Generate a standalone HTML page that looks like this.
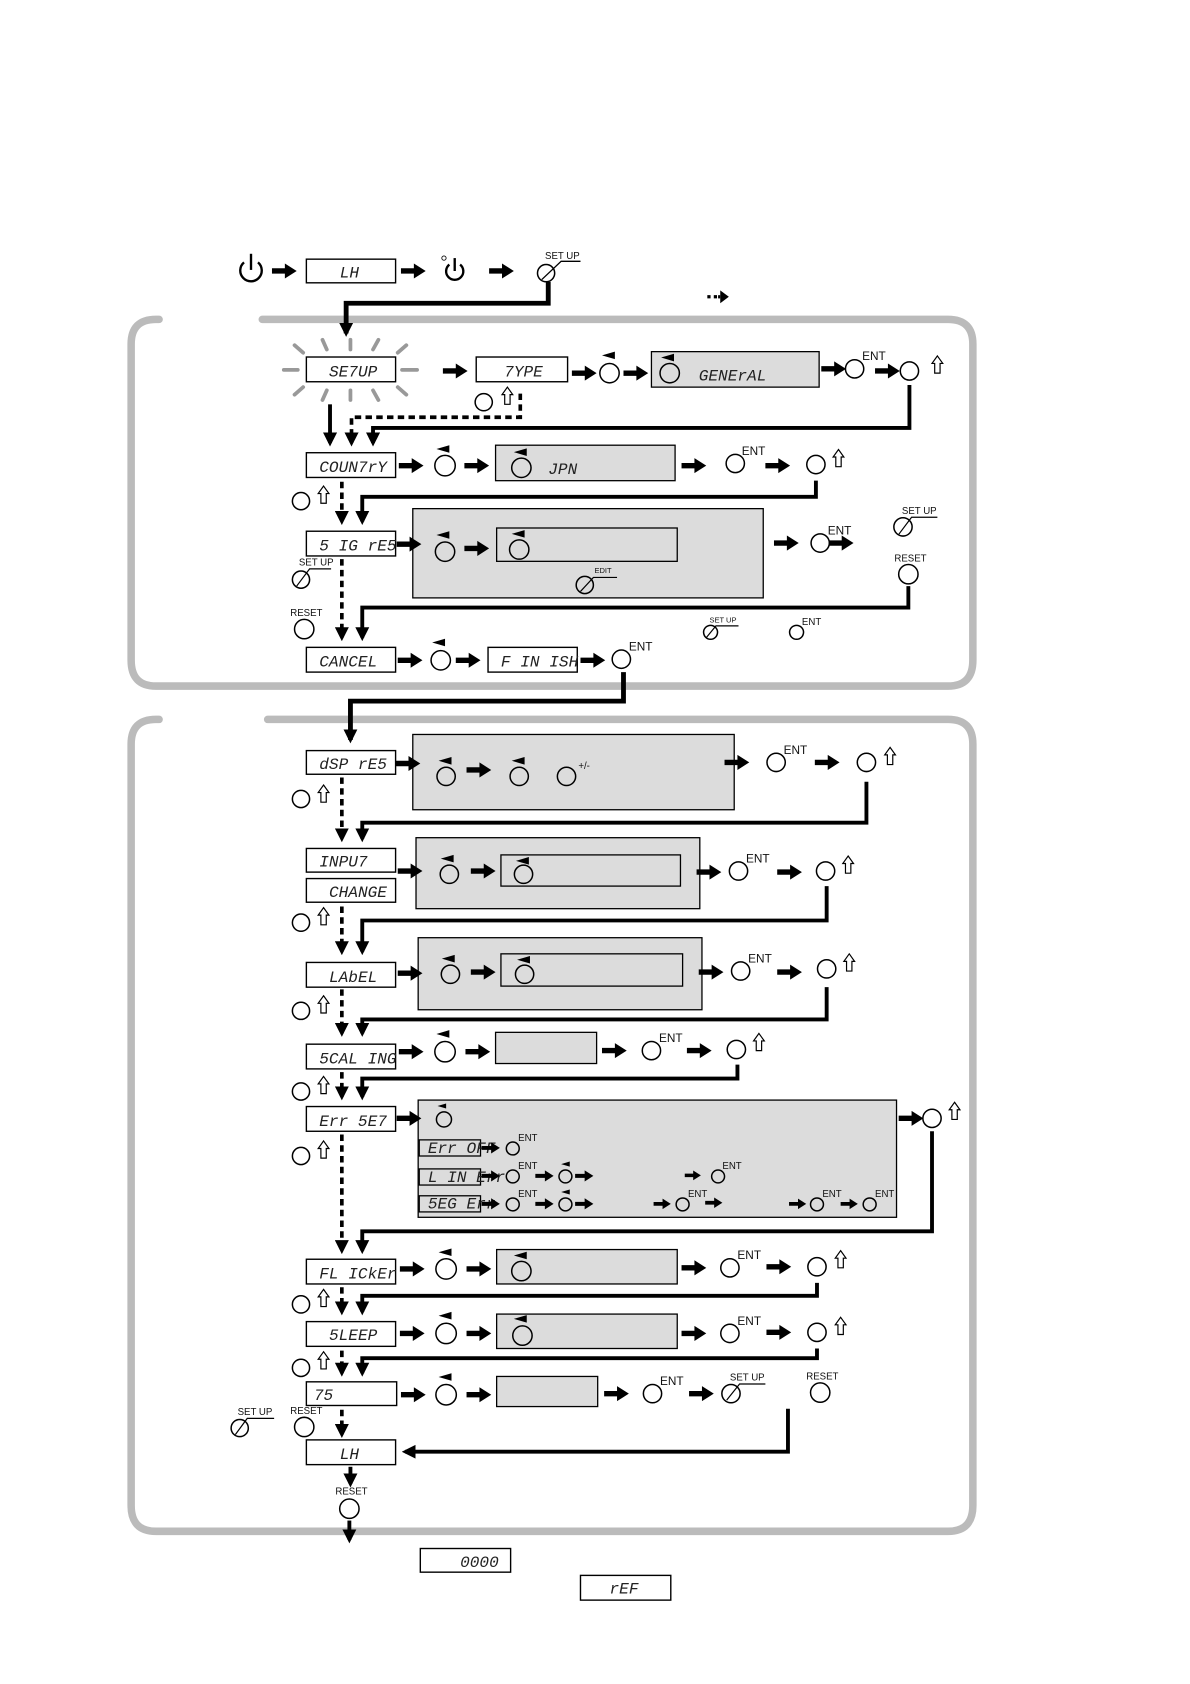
<!DOCTYPE html>
<html><head><meta charset="utf-8"><style>
html,body{margin:0;padding:0;background:#fff}
svg{display:block}
.d{font-family:"Liberation Mono",monospace;font-style:italic;font-size:15px;fill:#222}
.s{font-family:"Liberation Sans",sans-serif;font-size:9px;fill:#111}
.e{font-family:"Liberation Sans",sans-serif;font-size:11px;fill:#111}
</style></head><body>
<svg width="1190" height="1684" viewBox="0 0 1107 1566" preserveAspectRatio="none" xmlns="http://www.w3.org/2000/svg">
<defs>
<symbol id="ra" viewBox="0 0 23 14" width="23" height="14" overflow="visible"><path d="M0 4.5h12v-4.5l11 7-11 7v-4.5H0z" fill="#000"/></symbol>
<marker id="mh" markerUnits="userSpaceOnUse" viewBox="0 0 12 12" refX="9" refY="6" markerWidth="13" markerHeight="13" orient="auto"><path d="M0 0L12 6L0 12z" fill="#000"/></marker>
<symbol id="up" viewBox="0 0 12 18" width="12" height="18" overflow="visible"><path d="M6 1L11 8H8.5V17H3.5V8H1z" fill="#fff" stroke="#000" stroke-width="1.1"/></symbol>
<symbol id="tri" viewBox="0 0 12 7" width="12" height="7" overflow="visible"><path d="M0 3.5L12 0V7z" fill="#000"/></symbol>
</defs>
<g fill="none" stroke="#bbb" stroke-width="7" stroke-linecap="round">
<path d="M148 297H145Q122 297 122 320V614Q122 638 145 638H882Q905 638 905 614V320Q905 297 882 297H244"/>
<path d="M148 669H145Q122 669 122 692V1400Q122 1424 145 1424H882Q905 1424 905 1400V692Q905 669 882 669H249"/>
</g>
<!-- top row -->
<g fill="none" stroke="#000" stroke-width="2.2">
<path d="M227 244A10 10 0 1 0 240 244"/><path d="M233.5 236V251"/>
<path d="M418 246A8 8 0 1 0 428 246"/><path d="M423 240V252"/>
</g>
<circle cx="413" cy="240" r="2" fill="none" stroke="#000" stroke-width="0.8"/>
<use href="#ra" x="253" y="245"/><use href="#ra" x="373" y="245"/><use href="#ra" x="455" y="245"/>
<rect x="285" y="241" width="83" height="22" fill="#fff" stroke="#000" stroke-width="1.3"/><text class="d" x="316" y="258">LH</text>
<circle cx="508" cy="254" r="8" fill="none" stroke="#000" stroke-width="1.4"/><path d="M504 260L522 243H540" fill="none" stroke="#000" stroke-width="1.2"/><text class="s" x="507" y="241" font-size="8">SET UP</text>
<path d="M658 276h3M664 276h3" stroke="#000" stroke-width="3"/><path d="M670 270l8 6-8 6z" fill="#000"/><path d="M670 276h-2" stroke="#000" stroke-width="3"/>
<g fill="none" stroke="#000" stroke-width="4.5">
<path d="M510 262V282H322V310" marker-end="url(#mh)"/>
</g>
<!-- SETUP rays -->
<g stroke="#999" stroke-width="3.5" stroke-linecap="round">
<path d="M264 344H277M374 344H388M274 321L282 328M300 316L304 325M326 316V325M352 316L347 325M378 321L370 328M274 367L282 360M300 372L304 363M326 372V363M352 372L347 363M378 367L370 360"/>
</g>
<!-- generic boxes -->
<g fill="#fff" stroke="#000" stroke-width="1.3">
<rect x="285" y="332" width="83" height="23"/><rect x="443" y="332" width="85" height="23"/>
<rect x="285" y="421" width="83" height="23"/><rect x="285" y="494" width="83" height="23"/>
<rect x="285" y="602" width="83" height="23"/><rect x="454" y="602" width="83" height="23"/>
<rect x="285" y="698" width="83" height="22"/><rect x="285" y="789" width="83" height="22"/><rect x="285" y="817" width="83" height="22"/>
<rect x="285" y="895" width="83" height="23"/><rect x="285" y="971" width="83" height="23"/><rect x="285" y="1029" width="83" height="23"/>
<rect x="285" y="1171" width="83" height="23"/><rect x="285" y="1229" width="83" height="23"/><rect x="285" y="1285" width="84" height="22"/>
<rect x="285" y="1339" width="83" height="23"/><rect x="391" y="1440" width="84" height="22"/><rect x="540" y="1465" width="84" height="23"/>
</g>
<g fill="#dcdcdc" stroke="#000" stroke-width="1.2">
<rect x="606" y="327" width="156" height="33"/><rect x="461" y="414" width="167" height="33"/>
<rect x="384" y="473" width="326" height="83"/><rect x="462" y="491" width="168" height="31"/>
<rect x="384" y="683" width="299" height="70"/>
<rect x="387" y="779" width="264" height="66"/><rect x="466" y="795" width="167" height="29"/>
<rect x="389" y="872" width="264" height="67"/><rect x="466" y="887" width="169" height="30"/>
<rect x="461" y="960" width="94" height="29"/>
<rect x="389" y="1023" width="445" height="109"/>
<rect x="390" y="1060" width="57" height="15"/><rect x="390" y="1087" width="57" height="15"/><rect x="390" y="1112" width="57" height="15"/>
<rect x="462" y="1162" width="168" height="32"/><rect x="462" y="1222" width="168" height="32"/><rect x="462" y="1280" width="94" height="28"/>
</g>
<!-- box texts -->
<text class="d" x="306" y="350">SE7UP</text><text class="d" x="469" y="350">7YPE</text><text class="d" x="650" y="354">GENErAL</text>
<text class="d" x="297" y="439">COUN7rY</text><text class="d" x="510" y="441" font-size="17">JPN</text>
<text class="d" x="297" y="512">5 IG rE5</text><text class="d" x="297" y="620">CANCEL</text><text class="d" x="466" y="620">F IN ISH</text>
<text class="d" x="297" y="715">dSP rE5</text><text class="d" x="297" y="806">INPU7</text><text class="d" x="306" y="834">CHANGE</text>
<text class="d" x="306" y="913">LAbEL</text><text class="d" x="297" y="989">5CAL ING</text><text class="d" x="297" y="1047">Err 5E7</text>
<text class="d" x="297" y="1189">FL ICkEr</text><text class="d" x="306" y="1246">5LEEP</text><text class="d" x="292" y="1302">75</text>
<text class="d" x="316" y="1357">LH</text><text class="d" x="428" y="1457">0000</text><text class="d" x="567" y="1482">rEF</text>
<g class="d" font-size="10"><text x="398" y="1072">Err OFF</text><text x="398" y="1099">L IN Err</text><text x="398" y="1124">5EG Err</text></g>
<!-- circles -->
<g fill="none" stroke="#000" stroke-width="1.4">
<circle cx="567" cy="347" r="9"/><circle cx="623" cy="347" r="9"/><circle cx="795" cy="343" r="8.5"/><circle cx="846" cy="345" r="8.5"/><circle cx="450" cy="374" r="8"/>
<circle cx="414" cy="433" r="9.5"/><circle cx="485" cy="435" r="9"/><circle cx="684" cy="431" r="8.5"/><circle cx="759" cy="432" r="8.5"/><circle cx="280" cy="466" r="8"/>
<circle cx="414" cy="513" r="9"/><circle cx="483" cy="511" r="9"/><circle cx="544" cy="544" r="8"/><circle cx="763" cy="505" r="8.5"/><circle cx="840" cy="490" r="8.5"/><circle cx="845" cy="534" r="9"/>
<circle cx="280" cy="539" r="8"/><circle cx="283" cy="585" r="9"/><circle cx="661" cy="588" r="6.5"/><circle cx="741" cy="588" r="6.5"/>
<circle cx="410" cy="614" r="9"/><circle cx="578" cy="613" r="8.5"/>
<circle cx="415" cy="722" r="8.5"/><circle cx="483" cy="722" r="8.5"/><circle cx="527" cy="722" r="8.5"/><circle cx="722" cy="709" r="8.5"/><circle cx="806" cy="709" r="8.5"/><circle cx="280" cy="743" r="8"/>
<circle cx="418" cy="813" r="8.5"/><circle cx="487" cy="813" r="8.5"/><circle cx="687" cy="810" r="8.5"/><circle cx="768" cy="810" r="8.5"/><circle cx="280" cy="858" r="8"/>
<circle cx="419" cy="906" r="8.5"/><circle cx="488" cy="906" r="8.5"/><circle cx="689" cy="903" r="8.5"/><circle cx="769" cy="901" r="8.5"/><circle cx="280" cy="940" r="8"/>
<circle cx="414" cy="978" r="9.5"/><circle cx="606" cy="977" r="8.5"/><circle cx="685" cy="976" r="8.5"/><circle cx="280" cy="1015" r="8"/>
<circle cx="413" cy="1041" r="7"/><circle cx="867" cy="1040" r="8.5"/><circle cx="280" cy="1075" r="8"/>
<circle cx="477" cy="1068" r="6"/><circle cx="477" cy="1094" r="6"/><circle cx="526" cy="1094" r="6"/><circle cx="668" cy="1094" r="6"/>
<circle cx="477" cy="1120" r="6"/><circle cx="526" cy="1120" r="6"/><circle cx="635" cy="1120" r="6"/><circle cx="760" cy="1120" r="6"/><circle cx="809" cy="1120" r="6"/>
<circle cx="415" cy="1180" r="9.5"/><circle cx="485" cy="1182" r="9"/><circle cx="679" cy="1179" r="8.5"/><circle cx="760" cy="1178" r="8.5"/><circle cx="280" cy="1213" r="8"/>
<circle cx="415" cy="1240" r="9.5"/><circle cx="486" cy="1242" r="9"/><circle cx="679" cy="1240" r="8.5"/><circle cx="760" cy="1239" r="8.5"/><circle cx="280" cy="1272" r="8"/>
<circle cx="415" cy="1297" r="9.5"/><circle cx="607" cy="1296" r="8.5"/><circle cx="680" cy="1296" r="8.5"/><circle cx="763" cy="1295" r="9"/>
<circle cx="223" cy="1328" r="8"/><circle cx="283" cy="1327" r="9"/><circle cx="325" cy="1403" r="9"/>
</g>
<!-- SET UP / EDIT leader lines -->
<g fill="none" stroke="#000" stroke-width="1.1">
<path d="M540 550L552 537H574"/><path d="M836 497L848 481H872"/><path d="M276 545L288 529H308"/>
<path d="M657 593L666 582H687"/><path d="M676 1302L688 1287H712"/><path d="M219 1334L230 1319H255"/>
</g>
<g class="s" font-size="8"><text x="553" y="533" font-size="7">EDIT</text><text x="839" y="478">SET UP</text><text x="832" y="522">RESET</text>
<text x="278" y="526">SET UP</text><text x="270" y="573">RESET</text><text x="660" y="579" font-size="7">SET UP</text>
<text x="679" y="1284">SET UP</text><text x="750" y="1283">RESET</text><text x="221" y="1316">SET UP</text><text x="270" y="1315">RESET</text><text x="312" y="1390">RESET</text></g>
<g class="e"><text x="802" y="335">ENT</text><text x="690" y="423">ENT</text><text x="770" y="497">ENT</text><text x="746" y="581" font-size="9">ENT</text><text x="585" y="605">ENT</text>
<text x="729" y="701">ENT</text><text x="694" y="802">ENT</text><text x="696" y="895">ENT</text><text x="613" y="969">ENT</text>
<text x="686" y="1171">ENT</text><text x="686" y="1232">ENT</text><text x="614" y="1288">ENT</text>
<text x="538" y="715" font-size="9">+/-</text></g>
<g class="s" font-size="7.5"><text x="482" y="1061">ENT</text><text x="482" y="1087">ENT</text><text x="672" y="1087">ENT</text><text x="482" y="1113">ENT</text><text x="640" y="1113">ENT</text><text x="765" y="1113">ENT</text><text x="814" y="1113">ENT</text></g>
<!-- triangles ◄ -->
<use href="#tri" x="560" y="327"/><use href="#tri" x="615" y="329"/><use href="#tri" x="406" y="414"/><use href="#tri" x="478" y="417"/>
<use href="#tri" x="406" y="494"/><use href="#tri" x="476" y="493"/><use href="#tri" x="402" y="594"/>
<use href="#tri" x="408" y="704"/><use href="#tri" x="476" y="704"/><use href="#tri" x="410" y="795"/><use href="#tri" x="480" y="797"/>
<use href="#tri" x="411" y="888"/><use href="#tri" x="481" y="889"/><use href="#tri" x="406" y="958"/><use href="#tri" x="407" y="1026" width="8" height="5"/>
<use href="#tri" x="522" y="1080" width="8" height="5"/><use href="#tri" x="522" y="1106" width="8" height="5"/>
<use href="#tri" x="408" y="1161"/><use href="#tri" x="478" y="1164"/><use href="#tri" x="408" y="1220"/><use href="#tri" x="478" y="1223"/><use href="#tri" x="408" y="1277"/>
<!-- hollow up arrows -->
<use href="#up" x="866" y="330"/><use href="#up" x="466" y="359"/><use href="#up" x="774" y="417"/><use href="#up" x="295" y="451"/>
<use href="#up" x="822" y="694"/><use href="#up" x="295" y="729"/><use href="#up" x="783" y="795"/><use href="#up" x="295" y="843"/>
<use href="#up" x="784" y="886"/><use href="#up" x="295" y="925"/><use href="#up" x="700" y="960"/><use href="#up" x="295" y="1000"/>
<use href="#up" x="882" y="1024"/><use href="#up" x="295" y="1060"/><use href="#up" x="776" y="1162"/><use href="#up" x="295" y="1198"/>
<use href="#up" x="776" y="1224"/><use href="#up" x="295" y="1256"/>
<!-- short arrows -->
<use href="#ra" x="412" y="338"/><use href="#ra" x="532" y="340"/><use href="#ra" x="580" y="340"/><use href="#ra" x="764" y="336"/><use href="#ra" x="814" y="338"/>
<use href="#ra" x="371" y="426"/><use href="#ra" x="432" y="426"/><use href="#ra" x="634" y="426"/><use href="#ra" x="712" y="426"/>
<use href="#ra" x="369" y="499"/><use href="#ra" x="432" y="503"/><use href="#ra" x="720" y="498"/><use href="#ra" x="771" y="498"/>
<use href="#ra" x="370" y="607"/><use href="#ra" x="424" y="607"/><use href="#ra" x="540" y="607"/>
<use href="#ra" x="368" y="703"/><use href="#ra" x="434" y="709"/><use href="#ra" x="674" y="702"/><use href="#ra" x="758" y="702"/>
<use href="#ra" x="370" y="803"/><use href="#ra" x="438" y="803"/><use href="#ra" x="648" y="804"/><use href="#ra" x="723" y="804"/>
<use href="#ra" x="370" y="898"/><use href="#ra" x="438" y="897"/><use href="#ra" x="650" y="897"/><use href="#ra" x="723" y="897"/>
<use href="#ra" x="371" y="971"/><use href="#ra" x="433" y="971"/><use href="#ra" x="560" y="970"/><use href="#ra" x="639" y="970"/>
<use href="#ra" x="369" y="1033"/><use href="#ra" x="836" y="1033"/>
<use href="#ra" x="448" y="1062" width="17" height="11"/><use href="#ra" x="448" y="1088" width="17" height="11"/><use href="#ra" x="498" y="1088" width="17" height="11"/><use href="#ra" x="535" y="1088" width="17" height="11"/><use href="#ra" x="637" y="1088" width="15" height="10"/>
<use href="#ra" x="448" y="1114" width="17" height="11"/><use href="#ra" x="498" y="1114" width="17" height="11"/><use href="#ra" x="535" y="1114" width="17" height="11"/><use href="#ra" x="608" y="1114" width="16" height="11"/><use href="#ra" x="656" y="1113" width="16" height="11"/><use href="#ra" x="734" y="1114" width="16" height="11"/><use href="#ra" x="782" y="1114" width="16" height="11"/>
<use href="#ra" x="372" y="1173"/><use href="#ra" x="434" y="1173"/><use href="#ra" x="634" y="1172"/><use href="#ra" x="713" y="1171"/>
<use href="#ra" x="372" y="1233"/><use href="#ra" x="434" y="1233"/><use href="#ra" x="634" y="1233"/><use href="#ra" x="713" y="1232"/>
<use href="#ra" x="373" y="1290"/><use href="#ra" x="434" y="1290"/><use href="#ra" x="562" y="1289"/><use href="#ra" x="641" y="1289"/>
<!-- connectors -->
<g fill="none" stroke="#000" stroke-width="3.6">
<path d="M846 358V398H347V412" marker-end="url(#mh)"/>
<path d="M307 376V412" marker-end="url(#mh)"/>
<path d="M759 447V462H337V485" marker-end="url(#mh)"/>
<path d="M845 545V565H337V593" marker-end="url(#mh)"/>
<path d="M580 625V652H326V688" marker-end="url(#mh)" stroke-width="4.5"/>
<path d="M806 727V765H337V780" marker-end="url(#mh)"/>
<path d="M769 824V856H337V885" marker-end="url(#mh)"/>
<path d="M769 918V948H337V961" marker-end="url(#mh)"/>
<path d="M686 990V1003H337V1020" marker-end="url(#mh)"/>
<path d="M867 1052V1145H337V1163" marker-end="url(#mh)"/>
<path d="M760 1193V1205H337V1220" marker-end="url(#mh)"/>
<path d="M760 1254V1263H337V1277" marker-end="url(#mh)"/>
<path d="M733 1310V1350H377" marker-end="url(#mh)"/>
<path d="M326 1364V1380" marker-end="url(#mh)"/>
<path d="M325 1414V1432" marker-end="url(#mh)"/>
</g>
<g fill="none" stroke="#000" stroke-width="3.4" stroke-dasharray="6 4">
<path d="M484 366V388H327V412" marker-end="url(#mh)"/>
<path d="M318 448V485" marker-end="url(#mh)"/>
<path d="M318 520V593" marker-end="url(#mh)"/>
<path d="M318 723V780" marker-end="url(#mh)"/>
<path d="M318 843V885" marker-end="url(#mh)"/>
<path d="M318 920V961" marker-end="url(#mh)"/>
<path d="M318 997V1020" marker-end="url(#mh)"/>
<path d="M318 1055V1163" marker-end="url(#mh)"/>
<path d="M318 1197V1220" marker-end="url(#mh)"/>
<path d="M318 1256V1277" marker-end="url(#mh)"/>
<path d="M318 1311V1334" marker-end="url(#mh)"/>
</g>
</svg>
</body></html>
